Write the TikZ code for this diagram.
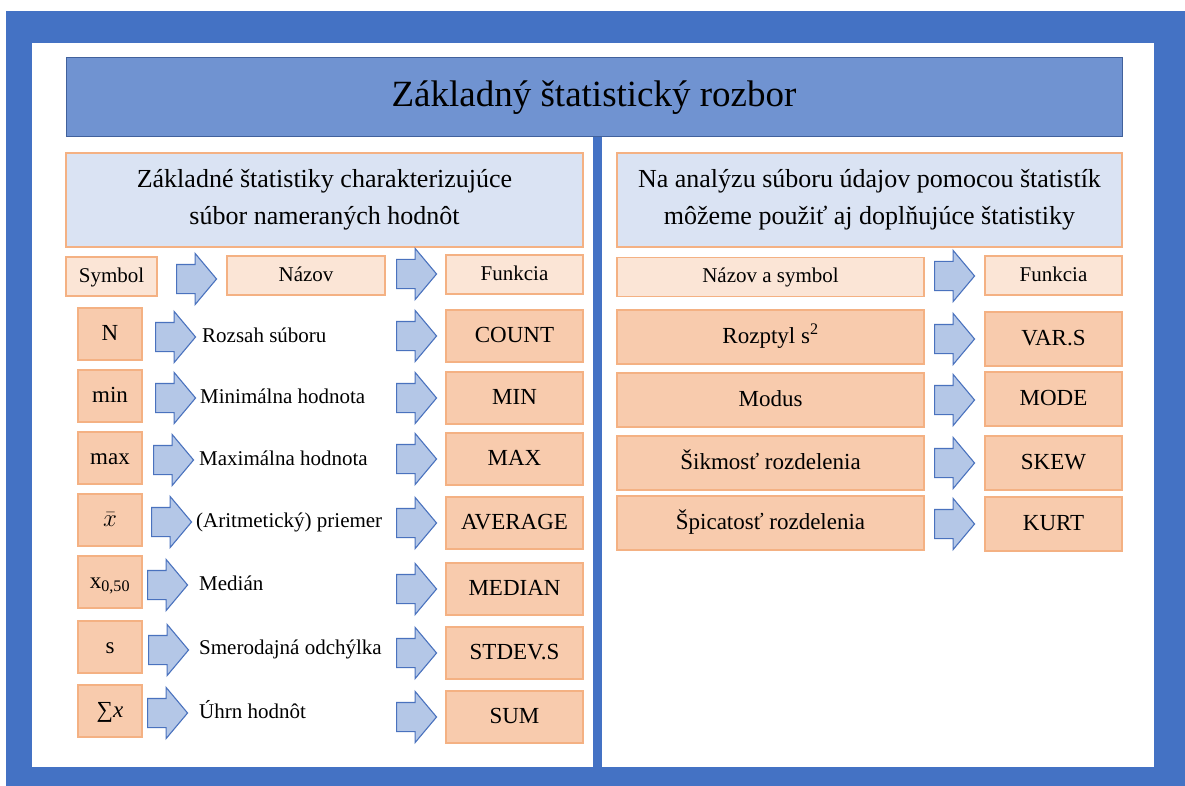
\documentclass[tikz,border=0pt]{standalone}
\usepackage{fontspec}
\setmainfont{Liberation Serif}
\usetikzlibrary{shapes.arrows}

\definecolor{frameblue}{HTML}{4472C4}
\definecolor{titlefill}{HTML}{7093D1}
\definecolor{titleline}{HTML}{41619C}
\definecolor{headfill}{HTML}{DAE3F3}
\definecolor{orangeline}{HTML}{F4B183}
\definecolor{lightorange}{HTML}{FBE5D6}
\definecolor{midorange}{HTML}{F8CBAD}
\definecolor{arrowfill}{HTML}{B4C7E7}
\definecolor{arrowline}{HTML}{4A72BE}

\tikzset{
  box/.style={draw=orangeline, line width=1.3pt, inner sep=0pt, anchor=center},
  labelbox/.style={box, fill=lightorange, minimum height=39pt,
    text height=14pt, text depth=3pt,
    font=\rmfamily\fontsize{21}{24}\selectfont},
  valbox/.style={box, fill=midorange, minimum height=52pt,
    text height=15.5pt, text depth=3pt,
    font=\rmfamily\fontsize{23}{26}\selectfont},
  symbox/.style={valbox, minimum width=64pt},
  funcbox/.style={valbox, minimum width=137pt},
  rfuncbox/.style={valbox, minimum width=137pt, minimum height=54pt},
  rnamebox/.style={valbox, minimum width=307pt, minimum height=54pt},
  nametext/.style={anchor=west, inner sep=0pt, text height=14pt, text depth=3pt,
    font=\rmfamily\fontsize{21}{24}\selectfont},
  headbox/.style={fill=headfill, draw=orangeline, line width=1.3pt, minimum height=94pt,
    align=center, font=\rmfamily\fontsize{26}{37}\selectfont},
  blockarrow/.style={single arrow, draw=arrowline, fill=arrowfill, line width=1.1pt,
    minimum height=40pt, minimum width=1pt, inner xsep=0pt, inner ysep=14pt,
    single arrow head extend=11pt, single arrow tip angle=100, anchor=tail},
}

\begin{document}
\begin{tikzpicture}[x=1pt, y=-1pt]
  \useasboundingbox (0,0) rectangle (1185,786);
  % frame and white panel
  \fill[white] (0,0) rectangle (1185,786);
  \fill[frameblue] (6,11) rectangle (1185,786);
  \fill[white] (32,43) rectangle (1154,767);
  % central divider
  \fill[frameblue] (593,137) rectangle (602,767);

  % title
  \node (title) [draw=titleline, fill=titlefill, line width=1pt, minimum width=1056pt,
    minimum height=79pt, font=\rmfamily\fontsize{37}{40}\selectfont] at (594,97.5)
    {Základný štatistický rozbor};

  % column headers
  \node (lhead) [headbox, minimum width=517pt] at (324.5,200)
    {Základné štatistiky charakterizujúce\\súbor nameraných hodnôt};
  \node (rhead) [headbox, minimum width=505pt] at (869.5,200)
    {Na analýzu súboru údajov pomocou štatistík\\môžeme použiť aj doplňujúce štatistiky};

  % left: header row
  \node (lsym) [labelbox, minimum width=91pt] at (111.5,276.5) {Symbol};
  \node (lname) [labelbox, minimum width=158pt] at (306,275.5) {Názov};
  \node (lfunc) [labelbox, minimum width=137pt] at (514.5,274.5) {Funkcia};
  \node (la1) [blockarrow] at (176,279) {};
  \node (la2) [blockarrow] at (396,274) {};

  % left: symbol boxes
  \node (s1) [symbox] at (110,334) {N};
  \node (s2) [symbox] at (110,396) {min};
  \node (s3) [symbox] at (110,458) {max};
  \node (s4) [symbox] at (110,520) {$\bar{x}$};
  \node (s5) [symbox] at (110,582) {x\textsubscript{0,50}};
  \node (s6) [symbox] at (110,647) {s};
  \node (s7) [symbox] at (110,711) {∑\textit{x}};

  % left: names
  \node (n1) [nametext] at (202,337) {Rozsah súboru};
  \node (n2) [nametext] at (200,398) {Minimálna hodnota};
  \node (n3) [nametext] at (199,460) {Maximálna hodnota};
  \node (n4) [nametext] at (196,522) {(Aritmetický) priemer};
  \node (n5) [nametext] at (199,585) {Medián};
  \node (n6) [nametext] at (199,649) {Smerodajná odchýlka};
  \node (n7) [nametext] at (199,713) {Úhrn hodnôt};

  % left: functions
  \node (f1) [funcbox] at (514.5,336) {COUNT};
  \node (f2) [funcbox] at (514.5,398) {MIN};
  \node (f3) [funcbox] at (514.5,459) {MAX};
  \node (f4) [funcbox] at (514.5,523) {AVERAGE};
  \node (f5) [funcbox] at (514.5,589) {MEDIAN};
  \node (f6) [funcbox] at (514.5,653) {STDEV.S};
  \node (f7) [funcbox] at (514.5,717) {SUM};

  % left: arrows symbol -> name
  \node (a11) [blockarrow] at (155,337) {};
  \node (a12) [blockarrow] at (155,398) {};
  \node (a13) [blockarrow] at (153,460) {};
  \node (a14) [blockarrow] at (151,522) {};
  \node (a15) [blockarrow] at (147,585) {};
  \node (a16) [blockarrow] at (148,650) {};
  \node (a17) [blockarrow] at (147,713) {};
  % left: arrows name -> function
  \node (a21) [blockarrow] at (396,336) {};
  \node (a22) [blockarrow] at (396,398) {};
  \node (a23) [blockarrow] at (396,459) {};
  \node (a24) [blockarrow] at (396,523) {};
  \node (a25) [blockarrow] at (396,589) {};
  \node (a26) [blockarrow] at (396,653) {};
  \node (a27) [blockarrow] at (396,717) {};

  % right: header row
  \node (rname) [labelbox, minimum width=307pt] at (770.5,277) {Názov a symbol};
  \node (rfunc) [labelbox, minimum width=137pt] at (1053.5,275.5) {Funkcia};
  \node (ra0) [blockarrow] at (934,276) {};

  % right: rows
  \node (r1) [rnamebox] at (770.5,337) {Rozptyl s\textsuperscript{2}};
  \node (r2) [rnamebox] at (770.5,400) {Modus};
  \node (r3) [rnamebox] at (770.5,463) {Šikmosť rozdelenia};
  \node (r4) [rnamebox] at (770.5,523) {Špicatosť rozdelenia};
  \node (g1) [rfuncbox] at (1053.5,339) {VAR.S};
  \node (g2) [rfuncbox] at (1053.5,399) {MODE};
  \node (g3) [rfuncbox] at (1053.5,463) {SKEW};
  \node (g4) [rfuncbox] at (1053.5,524) {KURT};
  \node (ra1) [blockarrow] at (934,339) {};
  \node (ra2) [blockarrow] at (934,400) {};
  \node (ra3) [blockarrow] at (934,463) {};
  \node (ra4) [blockarrow] at (934,524) {};
\end{tikzpicture}
\end{document}
